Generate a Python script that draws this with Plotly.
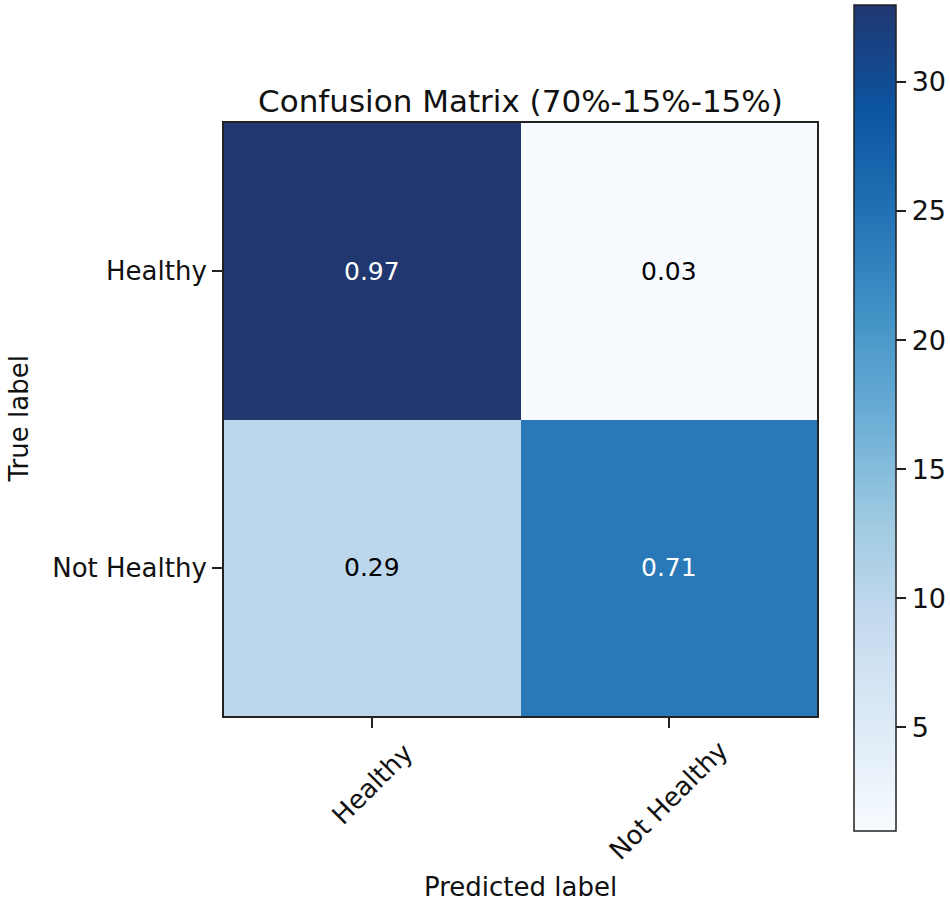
import numpy as np
import plotly.graph_objects as go

# ---- data ----
true_labels = ["Healthy", "Not Healthy"]
pred_labels = ["Healthy", "Not Healthy"]
counts = [[33, 1],
          [10, 24]]
title_text = "Confusion Matrix (70%-15%-15%)"
cbar_ticks = [5, 10, 15, 20, 25, 30]

# ---- derived ----
cm = np.array(counts, dtype=float)
norm = cm / cm.sum(axis=1, keepdims=True)
zmin, zmax = cm.min(), cm.max()
thresh = zmax / 2.0

blues = [
    [0.000, "rgb(247,251,255)"],
    [0.125, "rgb(222,235,247)"],
    [0.250, "rgb(198,219,239)"],
    [0.375, "rgb(158,202,225)"],
    [0.500, "rgb(107,174,214)"],
    [0.625, "rgb(66,146,198)"],
    [0.750, "rgb(33,113,181)"],
    [0.875, "rgb(12,84,160)"],
    [1.000, "rgb(32,55,112)"],
]

FONT = "DejaVu Sans"
L, R, T, B = 224, 817, 123, 716
W, H = 950, 904
pw, ph = R - L, B - T

fig = go.Figure()
fig.add_trace(go.Heatmap(
    z=cm, x=list(range(len(pred_labels))), y=list(range(len(true_labels))),
    colorscale=blues, zmin=zmin, zmax=zmax, showscale=True,
    xgap=0, ygap=0, hoverinfo="skip",
    colorbar=dict(
        x=(854 - L) / pw, xanchor="left", xpad=0,
        y=(B - 417.5) / ph, yanchor="middle", ypad=0,
        len=826, lenmode="pixels", thickness=42, thicknessmode="pixels",
        outlinewidth=1.5, outlinecolor="#222",
        tickvals=cbar_ticks, ticks="outside", ticklen=10, tickwidth=1.5,
        tickcolor="#222", tickfont=dict(family=FONT, size=27, color="#111"),
    ),
))

annotations = []
for i in range(cm.shape[0]):
    for j in range(cm.shape[1]):
        annotations.append(dict(
            x=j, y=i, xref="x", yref="y", text=f"{norm[i, j]:.2f}",
            showarrow=False,
            font=dict(family=FONT, size=25, color="white" if cm[i, j] > thresh else "black"),
        ))

# rotated x tick labels (centered at tick like matplotlib)
xlab_shift = [-68, -84]
for j, lab in enumerate(pred_labels):
    annotations.append(dict(
        x=j, y=0, xref="x", yref="paper", text=lab, showarrow=False,
        textangle=-45, xanchor="center", yanchor="middle", yshift=xlab_shift[j],
        font=dict(family=FONT, size=26, color="#111"),
    ))

annotations.append(dict(
    x=0.5, y=0, xref="paper", yref="paper", text="Predicted label", showarrow=False,
    xanchor="center", yanchor="middle", yshift=-(887 - B),
    font=dict(family=FONT, size=26, color="#111"),
))
annotations.append(dict(
    x=0, y=0.5, xref="paper", yref="paper", text="True label", showarrow=False,
    textangle=-90, xanchor="center", yanchor="middle", xshift=18 - L,
    font=dict(family=FONT, size=26, color="#111"),
))

fig.update_layout(
    width=W, height=H,
    margin=dict(l=L, r=W - R, t=T, b=H - B, pad=0, autoexpand=False),
    paper_bgcolor="white", plot_bgcolor="white",
    title=dict(text=title_text, x=(L + R) / 2 / W, xref="container", xanchor="center",
               y=1 - 101 / H, yref="container", yanchor="middle",
               font=dict(family=FONT, size=31, color="#111")),
    annotations=annotations,
    font=dict(family=FONT),
)
fig.update_xaxes(
    range=[-0.5, 1.5], tickvals=list(range(len(pred_labels))), showticklabels=False,
    ticks="outside", ticklen=10, tickwidth=1.5, tickcolor="#222",
    showline=True, linewidth=2, linecolor="#222", mirror=True,
    showgrid=False, zeroline=False,
)
fig.update_yaxes(
    range=[1.5, -0.5], tickvals=list(range(len(true_labels))), ticktext=true_labels,
    ticks="outside", ticklen=10, tickwidth=1.5, tickcolor="#222",
    tickfont=dict(family=FONT, size=26, color="#111"),
    showline=True, linewidth=2, linecolor="#222", mirror=True,
    showgrid=False, zeroline=False,
)

fig.write_html("out.html", config={"displayModeBar": False},
               post_script="document.body.style.margin='0';document.body.style.overflow='hidden';")
